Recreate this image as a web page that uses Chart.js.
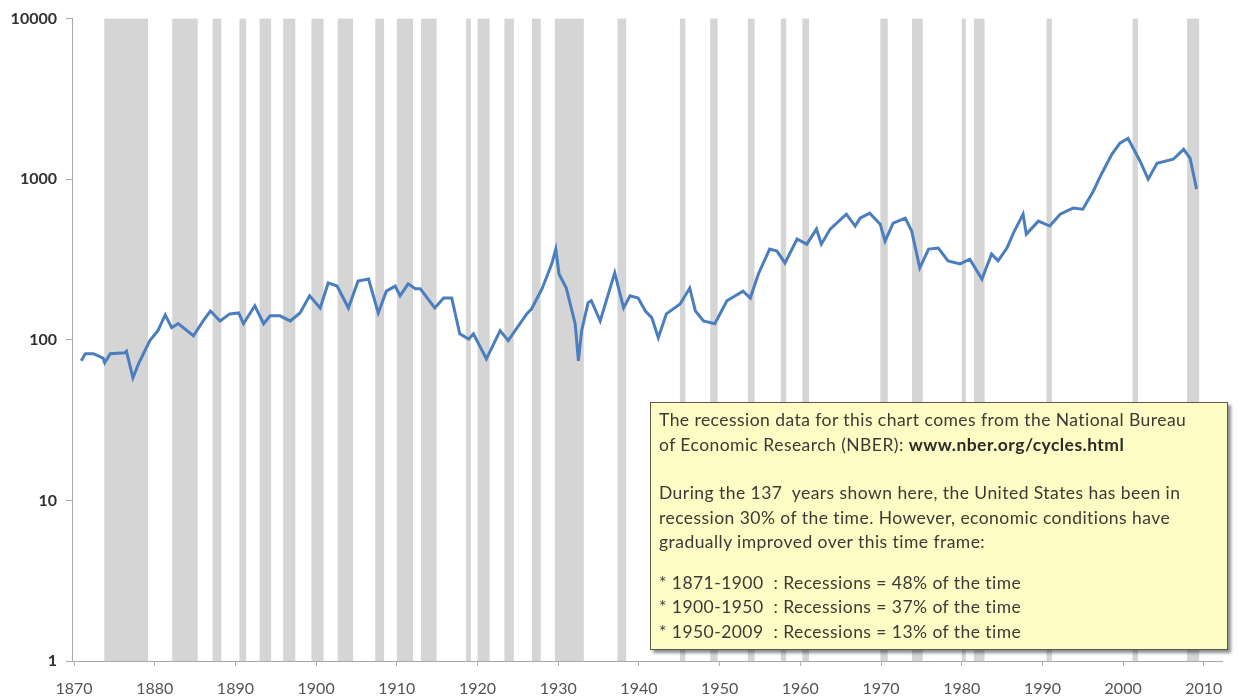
<!DOCTYPE html>
<html>
<head>
<meta charset="utf-8">
<script src="https://cdn.jsdelivr.net/npm/chart.js@4.4.1/dist/chart.umd.min.js"></script>
<style>
    body { margin: 0; background: #ffffff; }
    #Wrap { position: relative; width: 1238px; height: 700px; overflow: hidden; }
    #NoteBox {
        position: absolute; left: 650px; top: 402px; width: 560px; height: 236px;
        padding: 5px 8px 5px 8px;
        background: #fcfcc4; border: 1.5px solid #5a5a50;
        box-shadow: 3px 3px 3px rgba(0,0,0,0.45);
        font-family: Lato, "Open Sans", sans-serif; font-size: 17.5px; line-height: 24.5px;
        letter-spacing: 0.45px;
        color: #3a3a36; white-space: nowrap;
    }
    #NoteBox b { color: #2a2a28; }
    .gapBig { height: 24px; }
    .gapSmall { height: 16px; }
</style>
</head>
<body>
<div id="Wrap">
    <canvas id="ChartCanvas" width="1238" height="700"></canvas>
    <div id="NoteBox">
        <div>The recession data for this chart comes from the National Bureau</div>
        <div>of Economic Research (NBER): <b>www.nber.org/cycles.html</b></div>
        <div class="gapBig"></div>
        <div>During the 137&nbsp; years shown here, the United States has been in</div>
        <div>recession 30% of the time. However, economic conditions have</div>
        <div>gradually improved over this time frame:</div>
        <div class="gapSmall"></div>
        <div>* 1871-1900&nbsp; : Recessions = 48% of the time</div>
        <div>* 1900-1950&nbsp; : Recessions = 37% of the time</div>
        <div>* 1950-2009&nbsp; : Recessions = 13% of the time</div>
    </div>
</div>
<script>
// Index values (log scale)
const years = [
    1870.9, 1871.4, 1872.4, 1873.6, 1873.8, 1874.5, 1876.3, 1876.5, 1877.3, 1878.0,
    1879.4, 1880.4, 1881.3, 1882.1, 1882.9, 1884.0, 1884.8, 1886.0, 1886.9, 1888.1,
    1889.3, 1890.4, 1891.0, 1892.4, 1893.5, 1894.3, 1895.5, 1896.8, 1898.0, 1899.2,
    1900.5, 1901.5, 1902.6, 1904.0, 1905.2, 1906.5, 1907.7, 1908.7, 1909.8, 1910.4,
    1911.4, 1912.3, 1912.9, 1914.7, 1915.8, 1916.8, 1917.8, 1918.9, 1919.5, 1921.1,
    1922.8, 1923.8, 1926.1, 1926.7, 1928.0, 1929.2, 1929.7, 1930.1, 1931.0, 1932.1,
    1932.5, 1932.9, 1933.7, 1934.1, 1935.2, 1937.0, 1938.1, 1938.9, 1939.9, 1940.8,
    1941.6, 1942.4, 1943.4, 1945.1, 1946.3, 1947.0, 1948.0, 1949.4, 1950.9, 1952.9,
    1953.8, 1954.8, 1956.2, 1957.1, 1958.1, 1959.6, 1960.8, 1962.0, 1962.6, 1963.7,
    1965.7, 1966.8, 1967.4, 1968.6, 1969.9, 1970.5, 1971.5, 1973.0, 1973.8, 1974.8,
    1975.9, 1977.1, 1978.3, 1979.8, 1981.0, 1982.5, 1983.7, 1984.5, 1985.6, 1986.4,
    1987.6, 1988.0, 1989.5, 1990.9, 1992.2, 1993.8, 1995.0, 1996.3, 1997.3, 1998.6,
    1999.6, 2000.6, 2002.1, 2003.1, 2004.2, 2006.2, 2007.5, 2008.3, 2009.1
];
const indexValues = [
    74, 82, 82, 77, 72, 82, 83, 85, 58, 71,
    99, 114, 143, 119, 126, 114, 106, 131, 151, 131,
    145, 147, 126, 163, 126, 141, 141, 131, 147, 188,
    158, 226, 216, 158, 232, 239, 147, 201, 216, 188,
    223, 208, 208, 158, 182, 182, 109, 101, 109, 76,
    114, 99, 145, 156, 208, 297, 367, 257, 210, 126,
    74, 114, 170, 175, 131, 261, 158, 188, 182, 151,
    137, 103, 145, 167, 210, 151, 131, 126, 175, 201,
    182, 257, 367, 357, 301, 424, 394, 489, 394, 489,
    606, 511, 572, 615, 525, 412, 533, 572, 475, 280,
    367, 373, 310, 297, 318, 239, 342, 310, 373, 462,
    606, 455, 548, 511, 606, 661, 651, 842, 1074, 1430,
    1675, 1798, 1294, 1000, 1256, 1331, 1535, 1350, 867
];

// NBER recessions, peak to trough (decimal years)
const recessionStart = [
    1873.75, 1882.17, 1887.17, 1890.5, 1893.0, 1895.92, 1899.42, 1902.67, 1907.33, 1910.0,
    1913.0, 1918.58, 1920.0, 1923.33, 1926.75, 1929.58, 1937.33, 1945.08, 1948.83, 1953.5,
    1957.58, 1960.25, 1969.92, 1973.83, 1980.0, 1981.5, 1990.5, 2001.17, 2007.92
];
const recessionEnd = [
    1879.17, 1885.33, 1888.25, 1891.33, 1894.42, 1897.42, 1900.92, 1904.58, 1908.42, 1912.0,
    1914.92, 1919.17, 1921.5, 1924.5, 1927.83, 1933.17, 1938.42, 1945.75, 1949.75, 1954.33,
    1958.25, 1961.08, 1970.83, 1975.17, 1980.5, 1982.83, 1991.17, 2001.83, 2009.42
];

const yTicks = [1, 10, 100, 1000, 10000];
const xTicks = [1870, 1880, 1890, 1900, 1910, 1920, 1930, 1940, 1950, 1960, 1970, 1980, 1990, 2000, 2010];

Initialize();

function Initialize()
{
    const ctx = document.getElementById('ChartCanvas').getContext('2d');

    // Grey recession bands behind the line
    const recessionBands = {
        id: 'recessionBands',
        beforeDatasetsDraw(chart)
        {
            const c = chart.ctx;
            const area = chart.chartArea;
            const xScale = chart.scales.x;
            c.save();
            c.fillStyle = '#d5d5d5';
            for (let i = 0; i < recessionStart.length; i++)
            {
                const x0 = xScale.getPixelForValue(recessionStart[i]);
                const x1 = xScale.getPixelForValue(recessionEnd[i]);
                c.fillRect(x0, area.top, x1 - x0, area.bottom - area.top);
            }
            c.restore();
        }
    };

    new Chart(ctx, {
        type: 'line',
        data: {
            datasets: [{
                data: years.map((yr, i) => ({ x: yr, y: indexValues[i] })),
                borderColor: '#4a7ebf',
                borderWidth: 3,
                pointRadius: 0,
                tension: 0,
                fill: false
            }]
        },
        options: {
            responsive: false,
            animation: false,
            layout: { padding: { top: 17, right: 16, left: 0, bottom: 0 } },
            plugins: {
                legend: { display: false },
                tooltip: { enabled: false }
            },
            scales: {
                x: {
                    type: 'linear',
                    min: 1869.75,
                    max: 2012.25,
                    afterBuildTicks: scale => { scale.ticks = xTicks.map(v => ({ value: v })); },
                    afterFit: scale => { scale.height = 39; },
                    border: { color: '#a8a8a8', width: 1 },
                    grid: { drawOnChartArea: false, color: '#b0b0b0', tickLength: 5 },
                    ticks: {
                        color: '#555555',
                        font: { family: 'Lato', size: 16 },
                        padding: 13,
                        maxRotation: 0,
                        callback: v => String(v)
                    }
                },
                y: {
                    type: 'logarithmic',
                    min: 1,
                    max: 10000,
                    afterBuildTicks: scale => { scale.ticks = yTicks.map(v => ({ value: v })); },
                    afterFit: scale => { scale.width = 72; },
                    border: { color: '#a8a8a8', width: 1 },
                    grid: { drawOnChartArea: false, color: '#a8a8a8', tickLength: 6 },
                    ticks: {
                        color: '#303030',
                        font: { family: 'Lato', size: 16, weight: 'bold' },
                        padding: 9,
                        callback: v => String(v)
                    }
                }
            }
        },
        plugins: [recessionBands]
    });
}
</script>
</body>
</html>
